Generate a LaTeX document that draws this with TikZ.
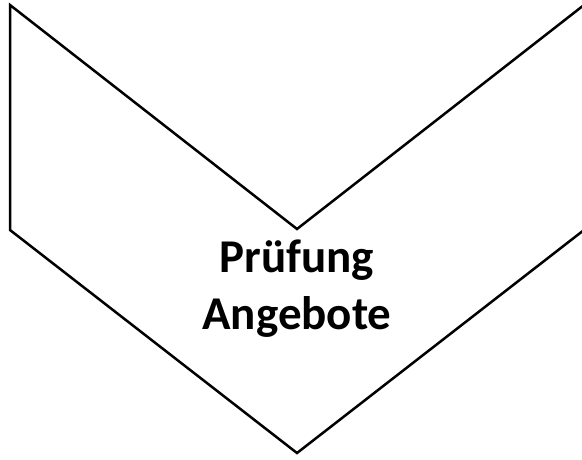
\documentclass[tikz,border=0pt]{standalone}
\usepackage{fontspec}
\setmainfont{Carlito}
\begin{document}
\begin{tikzpicture}[x=1pt,y=-1pt,
  outline/.style={draw=black, line width=2.5pt, line join=miter},
  caption/.style={font=\bfseries\fontsize{47}{57}\selectfont, align=center, inner sep=0pt}]
\useasboundingbox (0,0) rectangle (582,459);
% chevron pointing down; its right edge runs just past the page
\begin{scope}
  \clip (0,0) rectangle (582,459);
  \draw[outline] (10,5) -- (297,229) -- (584,5) -- (584,230) -- (297,453) -- (10,230) -- cycle;
\end{scope}
\node[caption] (label) at (297,289) {Prüfung\\Angebote};
\end{tikzpicture}
\end{document}
